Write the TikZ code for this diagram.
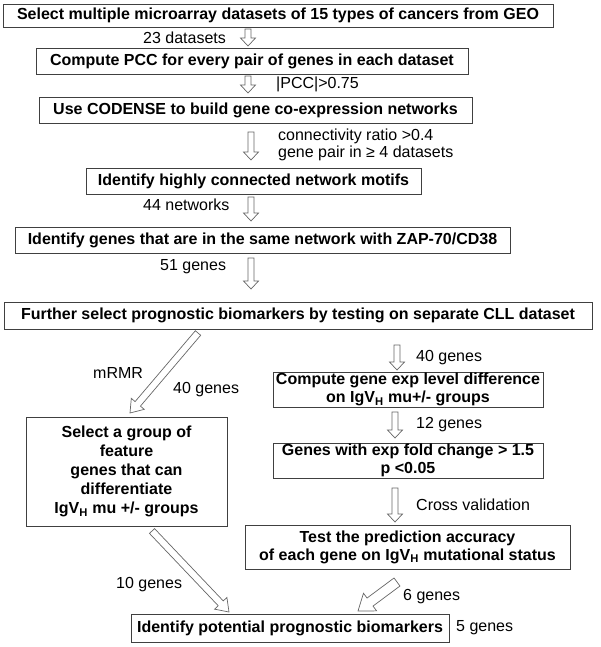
\documentclass[tikz,border=0pt]{standalone}
\usepackage{fontspec}
\setmainfont{Liberation Sans}
\usepackage{tikz}
\usetikzlibrary{calc}

\tikzset{
  box/.style={draw=black!75, line width=0.9pt, inner sep=0pt, align=center,
    font=\fontsize{16}{18}\selectfont\bfseries},
  lbl/.style={inner sep=0pt, anchor=west, align=left, font=\fontsize{16}{17}\selectfont},
  blockarr/.style n args={3}{draw=black!60, line width=0.7pt, fill=white,
    to path={($(\tikztostart)!#1!90:(\tikztotarget)$)
      -- ($($(\tikztotarget)!#3!(\tikztostart)$)!#1!90:(\tikztotarget)$)
      -- ($($(\tikztotarget)!#3!(\tikztostart)$)!#2!90:(\tikztotarget)$)
      -- (\tikztotarget)
      -- ($($(\tikztotarget)!#3!(\tikztostart)$)!#2!-90:(\tikztotarget)$)
      -- ($($(\tikztotarget)!#3!(\tikztostart)$)!#1!-90:(\tikztotarget)$)
      -- ($(\tikztostart)!#1!-90:(\tikztotarget)$) -- cycle}},
  smallarr/.style={blockarr={3pt}{7.5pt}{8pt}},
  bigarr/.style={blockarr={3.5pt}{8.5pt}{12pt}},
  fatarr/.style={blockarr={5pt}{11pt}{15pt}}
}

\begin{document}
\begin{tikzpicture}[x=1pt,y=-1pt]
\useasboundingbox (0,0) rectangle (600,647);

\node[box, minimum width=550, minimum height=23] (geo) at (278,15.5)
  {Select multiple microarray datasets of 15 types of cancers from GEO};
\node[box, minimum width=432, minimum height=26] (pcc) at (252,61)
  {Compute PCC for every pair of genes in each dataset};
\node[box, minimum width=433, minimum height=26] (codense) at (255.5,110)
  {Use CODENSE to build gene co-expression networks};
\node[box, minimum width=335, minimum height=26] (motifs) at (253.5,181)
  {Identify highly connected network motifs};
\node[box, minimum width=495, minimum height=26] (zap) at (262.5,240)
  {Identify genes that are in the same network with ZAP-70/CD38};
\node[box, minimum width=588, minimum height=27] (cll) at (298,315.5)
  {Further select prognostic biomarkers by testing on separate CLL dataset};
\node[box, minimum width=270, minimum height=35] (explevel) at (408,389.5)
  {Compute gene exp level difference\\on IgV\textsubscript{H} mu+/- groups};
\node[box, minimum width=270, minimum height=35] (fold) at (408,460.5)
  {Genes with exp fold change > 1.5\\p <0.05};
\node[box, minimum width=325, minimum height=44] (accuracy) at (407.5,547)
  {Test the prediction accuracy\\of each gene on IgV\textsubscript{H} mutational status};
\node[box, minimum width=201, minimum height=109, font=\fontsize{16}{19}\selectfont\bfseries]
  (feature) at (126.5,471.5)
  {Select a group of\\feature\\genes that can\\differentiate\\IgV\textsubscript{H} mu +/- groups};
\node[box, minimum width=318, minimum height=28] (markers) at (290,628)
  {Identify potential prognostic biomarkers};

\node[lbl] (n23) at (143,38) {23 datasets};
\node[lbl] (npcc) at (276,84) {|PCC|>0.75};
\node[lbl] (nconn) at (278,144.5) {connectivity ratio >0.4\\gene pair in ≥ 4 datasets};
\node[lbl] (n44) at (143,205) {44 networks};
\node[lbl] (n51) at (160,267) {51 genes};
\node[lbl] (nmrmr) at (93,373) {mRMR};
\node[lbl] (n40a) at (173,390) {40 genes};
\node[lbl] (n40b) at (416,358) {40 genes};
\node[lbl] (n12) at (416,425) {12 genes};
\node[lbl] (ncross) at (416,505) {Cross validation};
\node[lbl] (n10) at (116,585) {10 genes};
\node[lbl] (n6) at (403,597) {6 genes};
\node[lbl] (n5) at (456,628) {5 genes};

\foreach \n/\x/\ya/\yb in {1/248/29/46, 2/248/76/93, 3/251/132/160, 4/251/197/221,
  5/251/258/289, 6/397/345/370, 7/395/412/438, 8/395/488/522}{
  \coordinate (s\n) at (\x,\ya);
  \coordinate (e\n) at (\x,\yb);
}
\coordinate (sA) at (198,333);
\coordinate (eA) at (130,413);
\coordinate (sB) at (152,531);
\coordinate (eB) at (229,612);
\coordinate (sC) at (397,582);
\coordinate (eC) at (358,611);

\foreach \n in {1,...,8}
  \draw[smallarr] (s\n) to (e\n);
\draw[bigarr] (sA) to (eA);
\draw[bigarr] (sB) to (eB);
\draw[fatarr] (sC) to (eC);
\end{tikzpicture}
\end{document}
